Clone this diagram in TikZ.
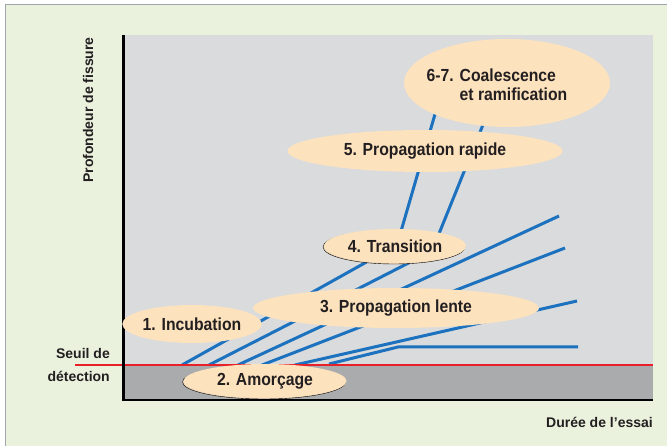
\documentclass[tikz,border=0pt]{standalone}
\usepackage{fontspec}
\setmainfont{Liberation Sans}
\newfontfamily\bullefont{Liberation Sans}[FakeStretch=0.9]
\usetikzlibrary{shapes.geometric, shadows}

\definecolor{fond}{RGB}{234,242,222}
\definecolor{cadre}{RGB}{160,166,172}
\definecolor{grisclair}{RGB}{218,219,221}
\definecolor{grisfonce}{RGB}{170,171,173}
\definecolor{bulle}{RGB}{253,226,190}
\definecolor{fissure}{RGB}{28,114,190}
\definecolor{seuil}{RGB}{232,32,40}
\definecolor{texte}{RGB}{35,31,32}

\begin{document}
\begin{tikzpicture}[x=1pt, y=-1pt, every node/.style={font=\bfseries, text=texte}]
    \tikzstyle{phase}=[ellipse, fill=bulle, inner sep=0pt, font=\bullefont\fontsize{17.5}{19}\selectfont\bfseries]
    \tikzstyle{ombre}=[copy shadow={shadow xshift=-1pt, shadow yshift=-1pt, fill=bulle!88!gray}]
    \tikzstyle{crack}=[fissure, line width=3pt]
    \tikzstyle{axislabel}=[font=\fontsize{14}{17}\selectfont\bfseries, inner sep=0pt]

    \useasboundingbox (0,0) rectangle (667,446);
    \fill[fond] (5,5) rectangle (667,446);
    \draw[cadre, line width=1pt] (5,446) -- (5,5) -- (667,5);

    % zone du graphe
    \fill[grisclair] (123,35) rectangle (653,365);
    \fill[grisfonce] (123,365) rectangle (653,400);

    % fissures
    \draw[crack] (182,365) -- (397,245) -- (440,97);
    \draw[crack] (209,365) -- (432,251) -- (491,105);
    \foreach \xa/\xb/\yb in {238/559/216, 262/565/248, 295/577/301}
        \draw[crack] (\xa,365) -- (\xb,\yb);
    \draw[crack] (329,364) -- (398,347) -- (578,347);

    \draw[seuil, line width=1.5pt] (75,365) -- (653,365);

    % axes
    \draw[black, line width=3pt] (123.5,35) -- (123.5,400);
    \draw[black, line width=2pt] (122,400) -- (653,400);

    % phases
    \node[phase, minimum width=206, minimum height=88] (coal) at (507,83) {};
    \node[font=\bullefont\fontsize{17.5}{19}\selectfont\bfseries, align=left] (coaltxt) at (497,85)
        {6-7. Coalescence\\\phantom{6-7. }et ramification};
    \node[phase, minimum width=275, minimum height=42] (rapide) at (425,151) {5. Propagation rapide};
    \node[phase, ombre, minimum width=142, minimum height=34] (trans) at (395,246) {4. Transition};
    \node[phase, minimum width=286, minimum height=40] (lente) at (396,308) {3. Propagation lente};
    \node[phase, minimum width=133, minimum height=38] (incub) at (192,324) {1. Incubation};
    \node[phase, ombre, minimum width=163, minimum height=34] (amorc) at (265,381) {2. Amorçage};

    % libellés
    \node[axislabel, rotate=90] (ylab) at (88,110) {Profondeur de fissure};
    \node[axislabel, anchor=east] (seuil1) at (110,353) {Seuil de};
    \node[axislabel, anchor=east] (seuil2) at (110,376) {détection};
    \node[axislabel, anchor=east] (xlab) at (653,422) {Durée de l’essai};
\end{tikzpicture}
\end{document}
